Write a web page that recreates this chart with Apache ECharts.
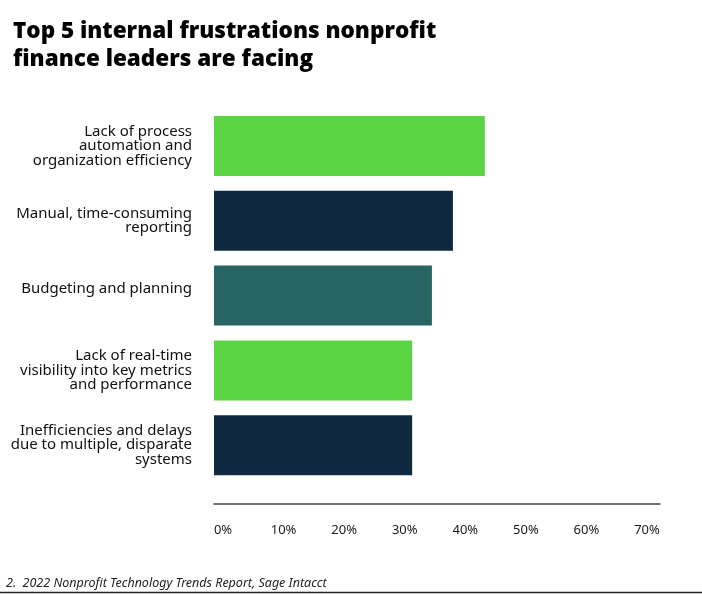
<!DOCTYPE html>
<html>
<head>
<meta charset="utf-8">
<script src="https://cdn.jsdelivr.net/npm/echarts@6/dist/echarts.min.js"></script>
<style>
html,body{margin:0;padding:0;background:#fff;}
#chart{width:702px;height:594px;}
</style>
</head>
<body>
<div id="chart"></div>
<script>
const categories = [
  "Lack of process\nautomation and\norganization efficiency",
  "Manual, time-consuming\nreporting",
  "Budgeting and planning",
  "Lack of real-time\nvisibility into key metrics\nand performance",
  "Inefficiencies and delays\ndue to multiple, disparate\nsystems"
];
const values = [42.5, 37.5, 34.2, 31.1, 31.1];
const tickValues = [0, 10, 20, 30, 40, 50, 60, 70];
const titleText = "Top 5 internal frustrations nonprofit\nfinance leaders are facing";
const sourceText = "2.  2022 Nonprofit Technology Trends Report, Sage Intacct";

const palette = ["#5BD444", "#0F2A40", "#266563", "#5BD444", "#0F2A40"];

const chart = echarts.init(document.getElementById('chart'), null, {renderer: 'canvas'});
const option = {
  animation: false,
  backgroundColor: '#ffffff',
  title: {
    text: titleText,
    left: 13,
    top: 18,
    padding: 0,
    textStyle: {
      fontFamily: 'Open Sans',
      fontWeight: 800,
      fontSize: 22.5,
      lineHeight: 28,
      color: '#000000'
    }
  },
  grid: [
    {left: 214, right: 42, top: 108.6, height: 374, containLabel: false},
    {left: 223, right: 55, top: 108.6, height: 374, containLabel: false}
  ],
  xAxis: [
    {
      type: 'value', gridIndex: 0, min: 0, max: 70, interval: 10, offset: 21,
      axisLine: {show: true, lineStyle: {color: '#444444', width: 1.5}},
      axisTick: {show: false}, axisLabel: {show: false}, splitLine: {show: false}
    },
    {
      type: 'value', gridIndex: 1, min: tickValues[0], max: tickValues[tickValues.length - 1], interval: 10, offset: 21,
      axisLine: {show: false}, axisTick: {show: false}, splitLine: {show: false},
      axisLabel: {
        show: true, margin: 20, formatter: v => v + '%',
        fontFamily: 'Noto Sans', fontSize: 13, color: '#1a1a1a'
      }
    }
  ],
  yAxis: [
    {
      type: 'category', gridIndex: 0, data: categories, inverse: true,
      axisLine: {show: false}, axisTick: {show: false}, splitLine: {show: false},
      axisLabel: {
        margin: 22, align: 'right', fontFamily: 'Noto Sans', fontSize: 15, lineHeight: 14.5, color: '#111111',
        formatter: (v, i) => i === 2 ? '{up|' + v + '}' : v,
        rich: {up: {fontFamily: 'Noto Sans', fontSize: 15, lineHeight: 14.5, color: '#111111', padding: [0, 0, 14, 0]}}
      }
    },
    {
      type: 'category', gridIndex: 1, data: categories, inverse: true, show: false
    }
  ],
  series: [{
    type: 'bar',
    xAxisIndex: 0, yAxisIndex: 0,
    barWidth: 60,
    data: values.map((v, i) => ({value: v, itemStyle: {color: palette[i]}})),
    silent: true
  }],
  graphic: [
    {
      type: 'text', left: 6, top: 577,
      style: {text: sourceText, font: 'italic 12.5px "Noto Sans"', fill: '#222222'}
    },
    {
      type: 'line', shape: {x1: 0, y1: 592.5, x2: 702, y2: 592.5},
      style: {stroke: '#222222', lineWidth: 1.5}
    }
  ]
};
chart.setOption(option);
</script>
</body>
</html>
